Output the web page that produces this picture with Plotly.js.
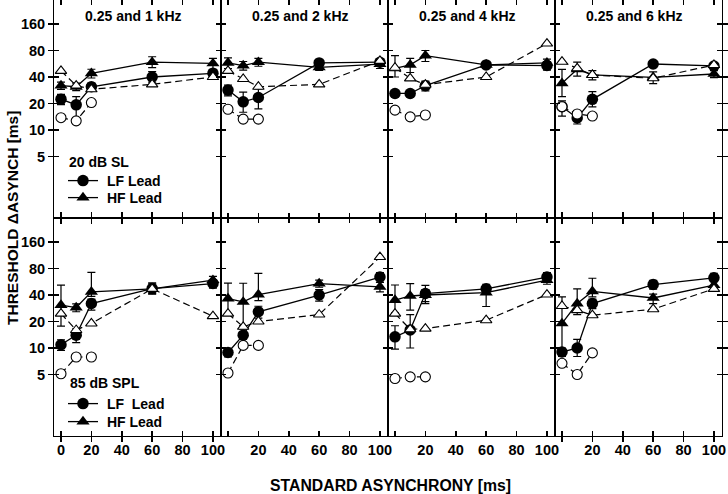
<!DOCTYPE html>
<html><head><meta charset="utf-8">
<script src="https://cdn.plot.ly/plotly-3.0.1.min.js"></script>
<style>html,body{margin:0;padding:0;background:#fff}</style>
</head><body><div id="chart" style="width:728px;height:494px"></div>
<script>
// ---------- DATA ----------
const asynchrony = [0, 10, 20, 60, 100];
const asynchronyShort = [0, 10, 20];
const panelTitles = ['0.25 and 1 kHz', '0.25 and 2 kHz', '0.25 and 4 kHz', '0.25 and 6 kHz'];
const yTickVals = [5, 10, 20, 40, 80, 160];
const yTickText = ['5', '10', '20', '40', '80', '160'];
const xTickVals = [0, 20, 40, 60, 80, 100];
const xTickTextFirst = ['0', '20', '40', '60', '80', '100'];
const xTickTextOther = ['', '20', '40', '60', '80', '100'];
const levelLabels = ['20 dB SL', '85 dB SPL'];
const lfNames = ['\u00a0LF Lead', '\u00a0LF\u00a0 Lead'];
const hfNames = ['\u00a0HF Lead', '\u00a0HF Lead'];

// 20 dB SL (top row), one array per panel
const lfSL    = [[22.4, 19.3, 31, 40, 44], [28.4, 20.9, 23.4, 57.8, 58.9], [26, 26, 31.9, 54.9, 54], [18.4, 13.7, 22.3, 56.2, 53.4]];
const lfSLup  = [[3, 4.6, 3, 6, 4], [4, 6, 6, 5, 5], [2, 2, 4, 4, 6], [3, 2, 5, 3, 5]];
const lfSLdn  = [[3, 5.6, 3, 5, 4], [4, 5, 6, 5, 5], [2, 2, 4, 4, 6], [4, 2, 4, 3, 5]];
const hfSL    = [[32, 31, 44, 59, 57], [58, 54, 59, 51.6, 56], [50, 55, 70, 55, 58], [33.9, 48.9, 42.2, 39.7, 43.3]];
const hfSLup  = [[3, 3, 5, 9, 8], [8, 6, 6, 4, 8], [20, 10, 10, 4, 6], [15, 10, 5, 6, 4]];
const hfSLdn  = [[3, 3, 5, 8, 8], [8, 6, 6, 4, 6], [10, 10, 10, 4, 6], [10, 8, 5, 6, 4]];
const hfSubSL = [[47, 32, 29, 33, 40], [47, 38, 31, 33, 61], [51, 38.6, 32.7, 40, 96], [59.7, 50.2, 42.2, 38.7, 54.8]];
const lfSubSL = [[13.8, 12.7, 20.5], [17.2, 13.3, 13.3], [16.8, 14.1, 14.8], [18.4, 15.2, 14.4]];

// 85 dB SPL (bottom row)
const lfSPL    = [[10.9, 14, 32, 47.4, 54], [8.9, 14, 25.8, 40, 64], [13.4, 16, 41.6, 47, 64], [9, 10, 32, 52.6, 62.7]];
const lfSPLup  = [[1.5, 2.5, 4, 6, 6], [1, 4, 4, 6, 8], [4.5, 8, 10, 6, 8], [1, 2.5, 4, 6, 8]];
const lfSPLdn  = [[1.5, 2.5, 5, 6, 6], [1, 4, 4, 6, 8], [3.7, 6, 8, 6, 6], [1, 2, 4, 6, 6]];
const hfSPL    = [[30.7, 28.8, 43.5, 47, 59], [36.5, 33.4, 40.5, 54, 49.5], [35, 39, 40, 42.6, 59], [19, 32, 44, 37, 51.7]];
const hfSPLup  = [[21, 3, 29, 8, 6], [18, 21, 30, 5, 6], [17, 15, 6, 5, 6], [19, 15, 18, 4, 6]];
const hfSPLdn  = [[13, 3, 5, 6, 6], [12, 17, 6, 5, 6], [10, 12, 8, 13, 6], [9.4, 8, 6, 5, 6]];
const hfSubSPL = [[24.6, 16, 19, 47, 23], [24.6, 17.4, 20, 24, 108], [24.6, 16.3, 16.6, 20.7, 40.5], [30, 26.9, 23.6, 27.6, 47]];
const lfSubSPL = [[5.1, 7.9, 7.9], [5.2, 10.7, 10.7], [4.5, 4.7, 4.7], [6.7, 5, 8.8]];

// ---------- BUILD ----------
const FONT = 'Liberation Sans, Arial, Helvetica, sans-serif';
const rowsData = [
  {lf: lfSL, lfUp: lfSLup, lfDn: lfSLdn, hf: hfSL, hfUp: hfSLup, hfDn: hfSLdn, hfSub: hfSubSL, lfSub: lfSubSL, lfLeg: 'legend', hfLeg: 'legend2'},
  {lf: lfSPL, lfUp: lfSPLup, lfDn: lfSPLdn, hf: hfSPL, hfUp: hfSPLup, hfDn: hfSPLdn, hfSub: hfSubSPL, lfSub: lfSubSPL, lfLeg: 'legend3', hfLeg: 'legend4'}
];
const traces = [];
const layout = {
  width: 728, height: 494,
  margin: {l: 54, r: 6, t: 0, b: 58},
  paper_bgcolor: '#fff', plot_bgcolor: '#fff',
  font: {family: FONT, size: 14, color: '#000', weight: 'bold'},
  showlegend: true,
  annotations: [], shapes: []
};
const yRange = [0, Math.log10(300)];
const xRange = [-4.6, 105.3];
const LW = 1.2;
const errStyle = (up, dn) => ({type: 'data', symmetric: false, array: up, arrayminus: dn, color: '#000', thickness: 1.2, width: 4});

for (let r = 0; r < 2; r++) {
  const d = rowsData[r];
  for (let c = 0; c < 4; c++) {
    const i = r * 4 + c + 1;
    const xa = 'x' + (i === 1 ? '' : i), ya = 'y' + (i === 1 ? '' : i);
    const xk = 'xaxis' + (i === 1 ? '' : i), yk = 'yaxis' + (i === 1 ? '' : i);
    layout[xk] = {
      domain: [c * 0.25, (c + 1) * 0.25], range: xRange, anchor: ya,
      ticks: 'inside', ticklen: 5, tickwidth: 1.5, tickcolor: '#000',
      mirror: 'allticks', showline: true, linewidth: LW, linecolor: '#000',
      tickvals: xTickVals, ticktext: c === 0 ? xTickTextFirst : xTickTextOther,
      showticklabels: r === 1, showgrid: false, zeroline: false,
      tickfont: {size: 14.5, family: FONT, weight: 'bold'}, fixedrange: true
    };
    layout[yk] = {
      domain: r === 0 ? [0.5, 1] : [0, 0.5], type: 'log', range: yRange, anchor: xa,
      ticks: 'inside', ticklen: 5, tickwidth: 1.5, tickcolor: '#000',
      mirror: 'allticks', showline: true, linewidth: LW, linecolor: '#000',
      tickvals: yTickVals, ticktext: yTickText, showticklabels: false, showgrid: false, zeroline: false, fixedrange: true
    };
    const first = c === 0;
    traces.push({
      x: asynchrony, y: d.lf[c], xaxis: xa, yaxis: ya, mode: 'lines+markers', type: 'scatter',
      name: lfNames[r], legend: d.lfLeg, showlegend: first,
      line: {color: '#000', width: 1.3},
      marker: {symbol: 'circle', size: 11.5, color: '#000'},
      error_y: errStyle(d.lfUp[c], d.lfDn[c]), hoverinfo: 'skip'
    });
    traces.push({
      x: asynchrony, y: d.hf[c], xaxis: xa, yaxis: ya, mode: 'lines+markers', type: 'scatter',
      name: hfNames[r], legend: d.hfLeg, showlegend: first,
      line: {color: '#000', width: 1.3},
      marker: {symbol: 'triangle-up', size: 11.5, color: '#000'},
      error_y: errStyle(d.hfUp[c], d.hfDn[c]), hoverinfo: 'skip'
    });
    traces.push({
      x: asynchrony, y: d.hfSub[c], xaxis: xa, yaxis: ya, mode: 'lines+markers', type: 'scatter',
      showlegend: false, line: {color: '#000', width: 1.2, dash: '7px,4px'},
      marker: {symbol: 'triangle-up', size: 10, color: '#fff', line: {color: '#000', width: 1.1}}, hoverinfo: 'skip'
    });
    traces.push({
      x: asynchronyShort, y: d.lfSub[c], xaxis: xa, yaxis: ya, mode: 'lines+markers', type: 'scatter',
      showlegend: false, line: {color: '#000', width: 1.2, dash: '7px,4px'},
      marker: {symbol: 'circle', size: 10, color: '#fff', line: {color: '#000', width: 1.1}}, hoverinfo: 'skip'
    });
    if (r === 0) {
      layout.annotations.push({
        text: panelTitles[c], xref: xa, yref: 'paper', x: 48, y: 1 - 16 / 436,
        xanchor: 'center', yanchor: 'middle', showarrow: false,
        font: {size: 14, family: FONT, weight: 'bold', color: '#000'}
      });
    }
  }
}
// overlay axes carrying outward ticks on the outer edges
const overlays = [
  {k: 'yaxis9', id: 'y9', base: 'y', anchor: 'x', side: 'left', labels: true},
  {k: 'yaxis10', id: 'y10', base: 'y5', anchor: 'x5', side: 'left', labels: true},
  {k: 'yaxis11', id: 'y11', base: 'y4', anchor: 'x4', side: 'right', labels: false},
  {k: 'yaxis12', id: 'y12', base: 'y8', anchor: 'x8', side: 'right', labels: false}
];
overlays.forEach(o => {
  layout[o.k] = {
    overlaying: o.base, anchor: o.anchor, side: o.side, type: 'log', range: yRange,
    ticks: 'outside', ticklen: 5, tickwidth: 1.5, tickcolor: '#000', showline: false,
    tickvals: yTickVals, ticktext: yTickText, showticklabels: o.labels, showgrid: false, zeroline: false,
    tickfont: {size: 14.5, family: FONT, weight: 'bold'}, fixedrange: true
  };
  traces.push({x: [50], y: [null], xaxis: o.anchor, yaxis: o.id, type: 'scatter', mode: 'markers', showlegend: false, hoverinfo: 'skip'});
});

// legends: one entry each, placed by pixel centre
const px2x = px => (px - 54) / 668;
const px2y = py => (436 - py) / 436;
const legendCommon = {
  bgcolor: 'rgba(0,0,0,0)', borderwidth: 0, xanchor: 'left', yanchor: 'middle',
  font: {size: 14, family: FONT, weight: 'bold', color: '#000'}, itemclick: false, itemdoubleclick: false
};
layout.legend  = Object.assign({}, legendCommon, {x: px2x(63), y: px2y(181)});
layout.legend2 = Object.assign({}, legendCommon, {x: px2x(63), y: px2y(198)});
layout.legend3 = Object.assign({}, legendCommon, {x: px2x(63), y: px2y(404)});
layout.legend4 = Object.assign({}, legendCommon, {x: px2x(63), y: px2y(422)});

layout.annotations.push({
  text: levelLabels[0], xref: 'paper', yref: 'paper', x: px2x(67), y: px2y(162),
  xanchor: 'left', yanchor: 'middle', showarrow: false,
  font: {size: 14, family: FONT, weight: 'bold', color: '#000'}
});
layout.annotations.push({
  text: levelLabels[1], xref: 'paper', yref: 'paper', x: px2x(68), y: px2y(383),
  xanchor: 'left', yanchor: 'middle', showarrow: false,
  font: {size: 14, family: FONT, weight: 'bold', color: '#000'}
});
layout.annotations.push({
  text: 'THRESHOLD \u0394ASYNCH [ms]', xref: 'paper', yref: 'paper', x: px2x(12), y: px2y(218),
  textangle: -90, showarrow: false, xanchor: 'center', yanchor: 'middle',
  font: {size: 15.5, family: FONT, weight: 'bold', color: '#000'}
});
layout.annotations.push({
  text: 'STANDARD ASYNCHRONY [ms]', xref: 'paper', yref: 'paper', x: px2x(391), y: px2y(485),
  showarrow: false, xanchor: 'center', yanchor: 'middle',
  font: {size: 15.8, family: FONT, weight: 'bold', color: '#000'}
});

Plotly.newPlot('chart', traces, layout, {staticPlot: true, displayModeBar: false});
</script></body></html>
